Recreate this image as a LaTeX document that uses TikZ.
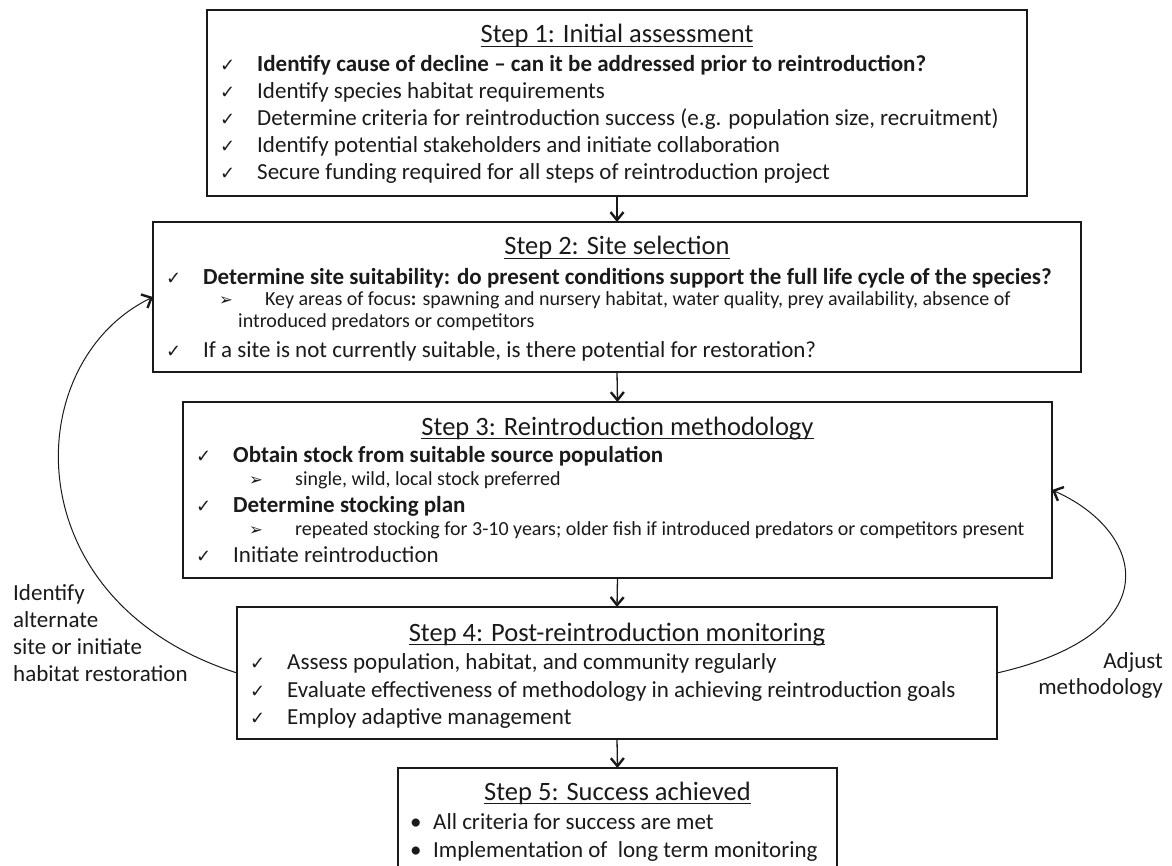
\documentclass[tikz,border=0pt]{standalone}
\usepackage{fontspec}
\setmainfont{Carlito}
\newfontfamily\symfont{DejaVu Sans}
\usetikzlibrary{arrows.meta}
\newcommand\chkm{{\symfont\fontsize{18}{18}\selectfont ✓}}
\newcommand\subarr{{\symfont\fontsize{16.5}{16.5}\selectfont ➢}}
\newcommand\ttlul[1]{\sbox0{#1}\rlap{\rule[-4.4pt]{\wd0}{1.4pt}}\usebox0}
\newcommand\bodyfs{\fontsize{23}{28}\selectfont}
\newcommand\subfs{\fontsize{20}{24}\selectfont}
\newcommand\ttlfs{\fontsize{26.5}{32}\selectfont}
\newcommand\ckrow[1]{\makebox[37pt][l]{\chkm}#1}
\newcommand\arrow[1]{\makebox[46pt][l]{\subarr}#1}
\newcommand\bulrow[1]{\makebox[23pt][l]{•}#1}
\definecolor{ink}{HTML}{1A1A1A}
\begin{document}
\begin{tikzpicture}[x=1pt,y=-1pt,
  box/.style={draw=ink, line width=2.8pt, inner sep=0pt, outer sep=0pt, rectangle},
  ttl/.style={anchor=base, font=\ttlfs, inner sep=0pt, text=ink},
  row/.style={anchor=base west, font=\bodyfs, inner sep=0pt, text=ink},
  subrow/.style={anchor=base west, font=\subfs, inner sep=0pt, text=ink},
  lbl/.style={font=\bodyfs, inner sep=0pt, text=ink},
  flow/.style={draw=ink, line width=1.3pt, -{Straight Barb[length=8pt,width=13pt,line width=2.4pt]}},
  loopback/.style={draw=ink, line width=1pt, -{Straight Barb[length=8pt,width=15pt,line width=2.4pt]}}]
\useasboundingbox (0,0) rectangle (1172,866);

% boxes
\node[box, minimum width=820pt, minimum height=186pt] (b1) at (617,103) {};
\node[box, minimum width=928pt, minimum height=150pt] (b2) at (617,297) {};
\node[box, minimum width=869pt, minimum height=176pt] (b3) at (617.5,490) {};
\node[box, minimum width=760pt, minimum height=132pt] (b4) at (617,673) {};
\node[box, minimum width=439pt, minimum height=112pt] (b5) at (617.5,824) {};

% box 1
\node[ttl] (t1) at (617,43) {\ttlul{Step 1: Initial assessment}};
\node[row] (r11) at (220,72) {\ckrow{\textbf{Identify cause of decline – can it be addressed prior to reintroduction?}}};
\node[row] (r12) at (220,99) {\ckrow{Identify species habitat requirements}};
\node[row] (r13) at (220,126) {\ckrow{Determine criteria for reintroduction success (e.g. population size, recruitment)}};
\node[row] (r14) at (220,153) {\ckrow{Identify potential stakeholders and initiate collaboration}};
\node[row] (r15) at (220,180) {\ckrow{Secure funding required for all steps of reintroduction project}};

% box 2
\node[ttl] (t2) at (617,255) {\ttlul{Step 2: Site selection}};
\node[row] (r21) at (166,285) {\ckrow{\textbf{Determine site suitability: do present conditions support the full life cycle of the species?}}};
\node[subrow] (r22) at (219,306) {\arrow{Key areas of focus\textbf{:} spawning and nursery habitat, water quality, prey availability, absence of}};
\node[subrow] (r23) at (238,328) {introduced predators or competitors};
\node[row] (r24) at (166,358) {\ckrow{If a site is not currently suitable, is there potential for restoration?}};

% box 3
\node[ttl] (t3) at (617.5,435) {\ttlul{Step 3: Reintroduction methodology}};
\node[row] (r31) at (196,462) {\ckrow{\textbf{Obtain stock from suitable source population}}};
\node[subrow] (r32) at (249,485) {\arrow{single, wild, local stock preferred}};
\node[row] (r33) at (196,512) {\ckrow{\textbf{Determine stocking plan}}};
\node[subrow] (r34) at (249,535) {\arrow{repeated stocking for 3-10 years; older fish if introduced predators or competitors present}};
\node[row] (r35) at (196,562) {\ckrow{Initiate reintroduction}};

% box 4
\node[ttl] (t4) at (617,641) {\ttlul{Step 4: Post-reintroduction monitoring}};
\node[row] (r41) at (250,669) {\ckrow{Assess population, habitat, and community regularly}};
\node[row] (r42) at (250,697) {\ckrow{Evaluate effectiveness of methodology in achieving reintroduction goals}};
\node[row] (r43) at (250,724) {\ckrow{Employ adaptive management}};

% box 5
\node[ttl] (t5) at (617.5,800) {\ttlul{Step 5: Success achieved}};
\node[row] (r51) at (410,829) {\bulrow{All criteria for success are met}};
\node[row] (r52) at (410,857) {\bulrow{Implementation of \ long term monitoring}};

% flow arrows
\draw[flow] (b1.south) -- (b2.north);
\draw[flow] (b2.south) -- (b3.north);
\draw[flow] (b3.south) -- (b4.north);
\draw[flow] (b4.south) -- (b5.north);

% loop-back arrows
\draw[loopback] (b4.west) .. controls (12,601) and (19,362) .. (b2.west);
\draw[loopback] (b4.east) .. controls (1172,633) and (1145,531) .. (b3.east);

% labels
\node[lbl, anchor=base west] (la1) at (13,600) {Identify};
\node[lbl, anchor=base west] (la2) at (13,627) {alternate};
\node[lbl, anchor=base west] (la3) at (13,654) {site or initiate};
\node[lbl, anchor=base west] (la4) at (13,681) {habitat restoration};
\node[lbl, anchor=base east] (lb1) at (1163,668) {Adjust};
\node[lbl, anchor=base east] (lb2) at (1163,694) {methodology};
\end{tikzpicture}
\end{document}
